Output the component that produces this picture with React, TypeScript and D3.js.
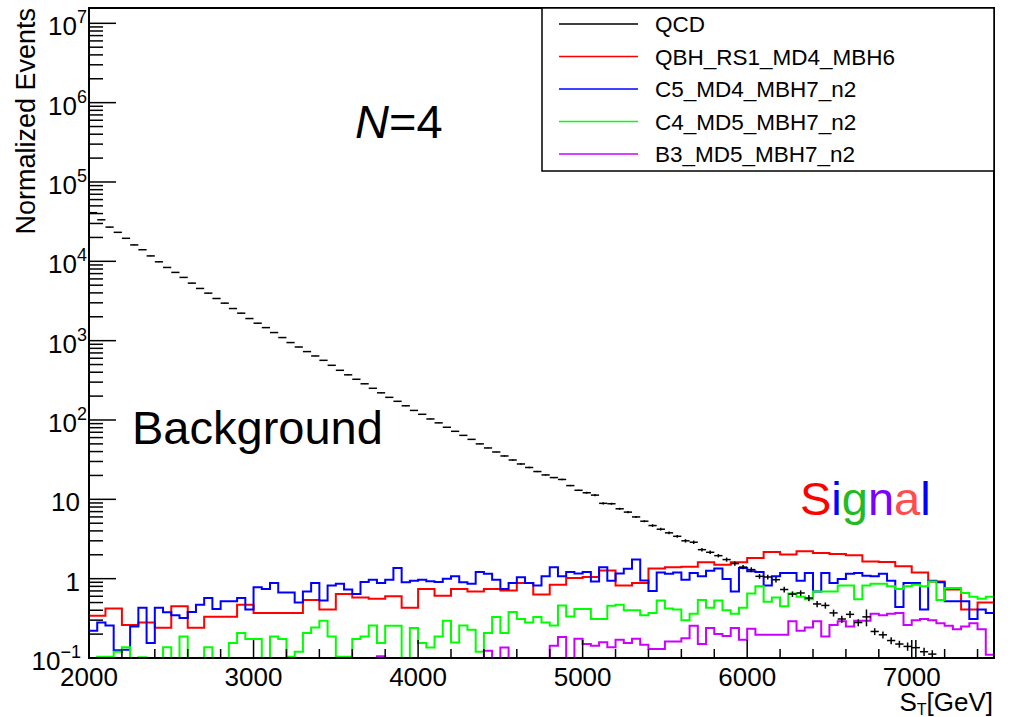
import * as d3 from "d3";
import React from "react";

// QCD background, 50 GeV bins from 2000 GeV (bins after 7150 are empty)
const qcd = [
  41000, 33400, 27000, 23200, 19500, 16100, 14000, 11700, 9860, 8370,
  7250, 6270, 5310, 4550, 3970, 3400, 2970, 2540, 2220, 1900,
  1660, 1460, 1265, 1094, 946, 832, 728, 641, 565, 489,
  423, 371, 326, 286, 251, 220, 193, 172, 151, 132,
  118, 103, 92, 81, 72, 64, 57, 50, 44.4, 39.5,
  35.2, 31.3, 27.9, 25.2, 22.4, 20.3, 18.8, 17.8, 14.9, 13.0,
  12.1, 11.3, 8.9, 8.8, 7.6, 6.9, 6.0, 5.3, 4.67, 4.2,
  3.78, 3.42, 3.0, 2.88, 2.32, 2.15, 1.95, 1.74, 1.55, 1.4,
  1.3, 1.07, 1.05, 0.97, 0.73, 0.64, 0.66, 0.57, 0.48, 0.46,
  0.37, 0.31, 0.355, 0.28, 0.33, 0.216, 0.196, 0.166, 0.15, 0.14,
  0.135, 0.12, 0.112,
];
// relative errors of the QCD points
const qcdErr = [
  0.01, 0.01, 0.01, 0.01, 0.01, 0.01, 0.01, 0.01, 0.01, 0.01,
  0.01, 0.01, 0.01, 0.01, 0.01, 0.01, 0.01, 0.01, 0.01, 0.01,
  0.01, 0.01, 0.01, 0.01, 0.01, 0.01, 0.01, 0.01, 0.01, 0.01,
  0.01, 0.01, 0.01, 0.01, 0.01, 0.01, 0.01, 0.01, 0.01, 0.01,
  0.01, 0.01, 0.01, 0.01, 0.01, 0.01, 0.01, 0.01, 0.01, 0.01,
  0.02, 0.02, 0.02, 0.02, 0.02, 0.02, 0.02, 0.02, 0.02, 0.02,
  0.03, 0.03, 0.03, 0.03, 0.03, 0.03, 0.03, 0.03, 0.04, 0.04,
  0.04, 0.04, 0.05, 0.05, 0.05, 0.05, 0.05, 0.06, 0.06, 0.06,
  0.07, 0.07, 0.07, 0.08, 0.08, 0.08, 0.08, 0.09, 0.09, 0.09,
  0.1, 0.1, 0.1, 0.1, 0.24, 0.1, 0.1, 0.1, 0.1, 0.12,
  0.25, 0.12, 0.12,
];

// QBH_RS1_MD4_MBH6, 100 GeV bins
const qbh = [
  0.34, 0.42, 0.26, 0.28, 0.24, 0.45, 0.24, 0.33, 0.33, 0.47,
  0.37, 0.37, 0.37, 0.54, 0.41, 0.64, 0.58, 0.56, 0.6, 0.43,
  0.74, 0.61, 0.74, 0.69, 0.74, 0.71, 0.88, 0.63, 0.84, 1.02,
  1.05, 1.27, 0.82, 0.88, 1.34, 1.39, 1.41, 1.61, 1.5, 1.61,
  1.82, 2.17, 2.01, 2.21, 2.11, 2.05, 1.97, 1.65, 1.62, 1.43,
  1.2, 0.92, 0.73, 0.41, 0.5,
];

// C5_MD4_MBH7_n2, 50 GeV bins
const c5 = [
  0.22, 0.28, 0.257, 0.125, 0.127, 0.25, 0.43, 0.154, 0.43, 0.376,
  0.345, 0.32, 0.38, 0.47, 0.57, 0.415, 0.52, 0.52, 0.57, 0.41,
  0.78, 0.74, 0.88, 0.67, 0.67, 0.5, 0.69, 0.88, 0.53, 0.82,
  0.86, 0.73, 0.64, 0.91, 0.97, 0.88, 0.97, 1.36, 0.9, 0.94,
  0.97, 0.93, 0.91, 1.0, 1.07, 0.9, 0.86, 1.21, 1.15, 0.97,
  0.74, 0.88, 1.04, 0.88, 0.82, 1.07, 1.39, 1.07, 1.21, 1.16,
  1.21, 0.92, 1.39, 0.94, 1.16, 1.33, 1.74, 0.95, 0.7, 1.2,
  1.15, 1.2, 0.97, 1.18, 1.07, 1.26, 1.34, 0.99, 0.69, 1.36,
  1.24, 1.21, 0.82, 1.07, 1.18, 1.18, 0.94, 1.18, 0.69, 1.18,
  0.88, 0.99, 1.15, 1.18, 1.09, 1.07, 1.15, 0.94, 0.44, 0.88,
  0.88, 0.41, 0.94, 0.9, 0.52, 0.52, 0.52, 0.31, 0.41, 0.37,
];

// C4_MD5_MBH7_n2, 50 GeV bins
const c4 = [
  0, 0.104, 0.104, 0.12, 0.137, 0, 0.102, 0, 0, 0.137,
  0, 0.187, 0, 0, 0.137, 0, 0, 0.155, 0.206, 0.174,
  0.174, 0, 0.187, 0.174, 0.104, 0.12, 0.206, 0.243, 0.295, 0.187,
  0.104, 0.104, 0.174, 0.187, 0.257, 0.154, 0.255, 0.255, 0, 0.238,
  0.154, 0.136, 0.187, 0.295, 0.157, 0.257, 0.227, 0.12, 0.206, 0.328,
  0.206, 0.38, 0.31, 0.28, 0.328, 0.28, 0.257, 0.46, 0.334, 0.414,
  0.414, 0.31, 0.31, 0.456, 0.47, 0.4, 0.4, 0.345, 0.37, 0.53,
  0.42, 0.41, 0.3, 0.36, 0.54, 0.43, 0.53, 0.4, 0.36, 0.43,
  0.65, 0.8, 0.51, 0.58, 0.45, 0.65, 0.59, 0.55, 0.69, 0.69,
  0.69, 0.82, 0.82, 0.55, 0.82, 0.86, 0.86, 0.8, 0.74, 0.8,
  0.84, 0.8, 0.92, 0.54, 0.76, 0.76, 0.66, 0.59, 0.56, 0.59,
];

// B3_MD5_MBH7_n2, 50 GeV bins
const b3 = [
  0, 0, 0, 0, 0, 0, 0, 0, 0, 0,
  0, 0, 0, 0, 0, 0, 0, 0, 0, 0,
  0, 0, 0, 0, 0, 0, 0, 0, 0, 0,
  0, 0, 0, 0, 0, 0.105, 0, 0, 0, 0,
  0, 0, 0, 0, 0, 0, 0, 0, 0.123, 0,
  0.136, 0, 0, 0, 0, 0, 0.143, 0.184, 0, 0.175,
  0.15, 0.143, 0.158, 0.137, 0.17, 0.154, 0.175, 0.147, 0.13, 0.13,
  0.162, 0.162, 0.178, 0.255, 0.15, 0.238, 0.2, 0.19, 0.238, 0.17,
  0.234, 0.196, 0.196, 0.196, 0.196, 0.29, 0.22, 0.243, 0.29, 0.187,
  0.26, 0.29, 0.25, 0.295, 0.295, 0.36, 0.345, 0.36, 0.37, 0.26,
  0.3, 0.31, 0.3, 0.275, 0.255, 0.23, 0.25, 0.275, 0.23, 0.11,
];

const legendNames = ["QCD", "QBH_RS1_MD4_MBH6", "C5_MD4_MBH7_n2", "C4_MD5_MBH7_n2", "B3_MD5_MBH7_n2"];
const legendColors = ["#000000", "#ff0000", "#0000ff", "#00ff00", "#cc00ff"];
const xTickLabels = [2000, 3000, 4000, 5000, 6000, 7000];
const yDecades = [-1, 0, 1, 2, 3, 4, 5, 6, 7];
const signalLetters = ["S", "i", "g", "n", "a", "l"];
const signalColors = ["#ff0000", "#0000ff", "#22bb22", "#7a00ff", "#ff4d4d", "#0000ff"];

const font = "'Liberation Sans', Arial, Helvetica, sans-serif";

const App: React.FC = () => {
  const margin = { left: 89, top: 8, right: 994, bottom: 658 };
  const yMin = 0.1;
  const yMax = Math.pow(10, 7.193);

  const x = d3.scaleLinear().domain([2000, 7500]).range([margin.left, margin.right]);
  const y = d3.scaleLog().domain([yMin, yMax]).range([margin.bottom, margin.top]);
  const yc = (v: number) => (v <= yMin ? y(yMin) : y(v));

  const stepPath = (vals: number[], width: number) => {
    let d = "";
    vals.forEach((v, i) => {
      const x0 = x(2000 + i * width);
      const x1 = x(2000 + (i + 1) * width);
      d += `${i === 0 ? "M" : "L"}${x0},${yc(v)}L${x1},${yc(v)}`;
    });
    return d;
  };

  const yMinor: number[] = [];
  yDecades.forEach((e) => {
    for (let k = 2; k <= 9; k++) {
      const v = k * Math.pow(10, e);
      if (v < yMax) yMinor.push(v);
    }
  });
  const xMinor = d3.range(2000, 7501, 200).filter((v) => v % 1000 !== 0);

  const signals = [
    { vals: qbh, w: 100, color: legendColors[1] },
    { vals: c5, w: 50, color: legendColors[2] },
    { vals: c4, w: 50, color: legendColors[3] },
    { vals: b3, w: 50, color: legendColors[4] },
  ];

  return (
    <svg
      width={1011}
      height={717}
      style={{ position: "absolute", left: 0, top: 0, background: "#fff" }}
      fontFamily={font}
    >
      <defs>
        <clipPath id="plot">
          <rect x={margin.left} y={margin.top} width={margin.right - margin.left} height={margin.bottom - margin.top} />
        </clipPath>
      </defs>

      <g clipPath="url(#plot)" fill="none" strokeWidth={2}>
        {signals.map((s, i) => (
          <path key={i} d={stepPath(s.vals, s.w)} stroke={s.color} />
        ))}
      </g>

      <g clipPath="url(#plot)" stroke="#000" strokeWidth={1.5}>
        {qcd.map((v, i) => {
          const x0 = x(2000 + i * 50);
          const x1 = x(2000 + (i + 1) * 50);
          const xm = (x0 + x1) / 2;
          const e = v * qcdErr[i];
          return (
            <g key={i}>
              <line x1={x0} x2={x1} y1={y(v)} y2={y(v)} />
              <line x1={xm} x2={xm} y1={y(v + e)} y2={y(Math.max(v - e, yMin))} />
            </g>
          );
        })}
      </g>

      {/* axes */}
      <g stroke="#000" strokeWidth={1.5}>
        {yDecades.map((e) => (
          <line key={e} x1={margin.left} x2={margin.left + 27} y1={y(Math.pow(10, e))} y2={y(Math.pow(10, e))} />
        ))}
        {yMinor.map((v) => (
          <line key={v} x1={margin.left} x2={margin.left + 14} y1={y(v)} y2={y(v)} />
        ))}
        {xTickLabels.map((v) => (
          <line key={v} x1={x(v)} x2={x(v)} y1={margin.bottom} y2={margin.bottom - 18} />
        ))}
        {xMinor.map((v) => (
          <line key={v} x1={x(v)} x2={x(v)} y1={margin.bottom} y2={margin.bottom - 9} />
        ))}
      </g>
      <rect
        x={margin.left}
        y={margin.top}
        width={margin.right - margin.left}
        height={margin.bottom - margin.top}
        fill="none"
        stroke="#000"
        strokeWidth={2}
      />

      <g fontSize={26} fill="#000">
        {yDecades.map((e) => {
          const ty = y(Math.pow(10, e)) + 12;
          if (e === 0 || e === 1)
            return (
              <text key={e} x={80} y={ty} textAnchor="end">
                {e === 0 ? "1" : "10"}
              </text>
            );
          return (
            <text key={e} x={e < 0 ? 81 : 87} y={ty} textAnchor="end">
              10
              <tspan dy={-12} fontSize={18}>
                {e < 0 ? "\u2212" + -e : String(e)}
              </tspan>
            </text>
          );
        })}
        {xTickLabels.map((v) => (
          <text key={v} x={x(v)} y={686} textAnchor="middle">
            {v}
          </text>
        ))}
        <text x={993} y={711} textAnchor="end">
          S<tspan dy={4} fontSize={16}>T</tspan>
          <tspan dy={-4}>[GeV]</tspan>
        </text>
        <text transform="translate(35,8) rotate(-90)" textAnchor="end" fontSize={27}>
          Normalized Events
        </text>
      </g>

      {/* legend */}
      <rect x={542} y={8} width={452} height={163} fill="#fff" stroke="#000" strokeWidth={1.5} />
      {legendNames.map((n, i) => {
        const cy = 24 + i * 32.5;
        return (
          <g key={n}>
            <line x1={559} x2={638} y1={cy} y2={cy} stroke={legendColors[i]} strokeWidth={1.5} />
            <text x={655} y={cy + 8} fontSize={22.5}>
              {n}
            </text>
          </g>
        );
      })}

      <text x={355} y={138} fontSize={47}>
        <tspan fontStyle="italic">N</tspan>=4
      </text>
      <text x={132} y={444} fontSize={47}>
        Background
      </text>
      <text x={800} y={515} fontSize={47}>
        {signalLetters.map((l, i) => (
          <tspan key={i} fill={signalColors[i]}>
            {l}
          </tspan>
        ))}
      </text>
    </svg>
  );
};

export default App;
